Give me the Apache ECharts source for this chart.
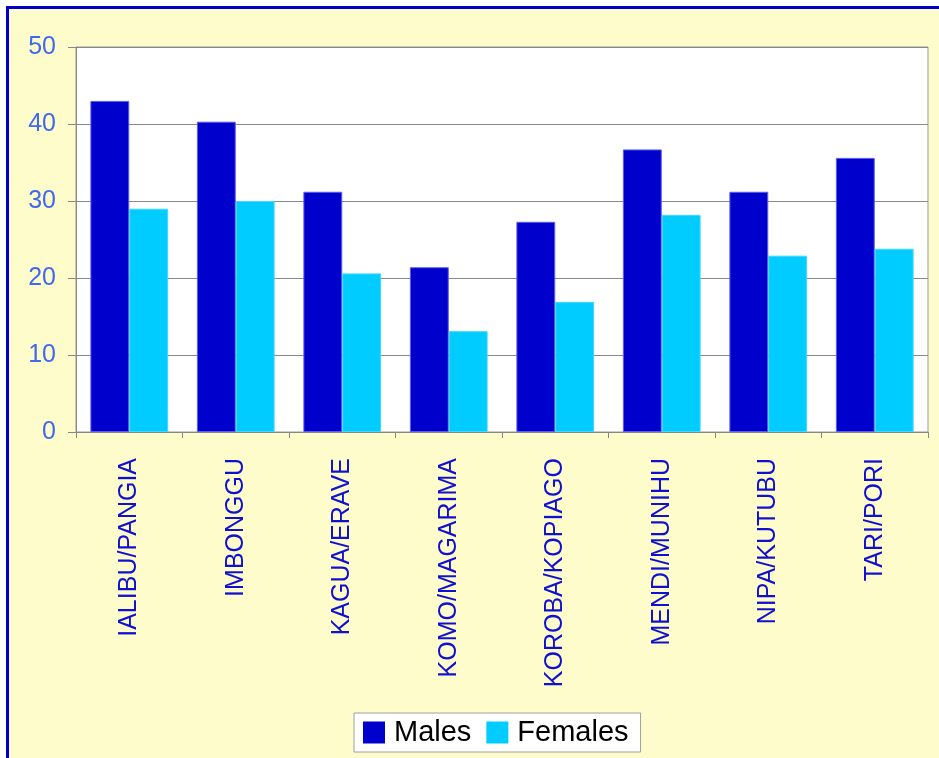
<!DOCTYPE html>
<html>
<head>
<meta charset="utf-8">
<script src="https://cdn.jsdelivr.net/npm/echarts@6/dist/echarts.min.js"></script>
<style>
  html, body { margin: 0; padding: 0; background: #fff; }
  #frame {
    position: absolute; left: 6px; top: 6px; width: 940px; height: 760px;
    border-left: 3px solid #0000cc; border-top: 3px solid #0000cc;
    background: #fefccb;
  }
  #main { position: absolute; left: 0; top: 0; width: 939px; height: 758px; }
</style>
</head>
<body>
<div id="frame"></div>
<div id="main"></div>
<script>
// districts
var categories = ['IALIBU/PANGIA', 'IMBONGGU', 'KAGUA/ERAVE', 'KOMO/MAGARIMA',
                  'KOROBA/KOPIAGO', 'MENDI/MUNIHU', 'NIPA/KUTUBU', 'TARI/PORI'];
var males   = [43.0, 40.3, 31.2, 21.4, 27.3, 36.7, 31.2, 35.6];
var females = [29.0, 30.0, 20.6, 13.1, 16.9, 28.2, 22.9, 23.8];
var yTicks  = [0, 10, 20, 30, 40, 50];

var myChart = echarts.init(document.getElementById('main'));

var option = {
    animation: false,
    backgroundColor: 'transparent',
    textStyle: { fontFamily: 'Liberation Sans, Arial, sans-serif' },
    legend: {
        bottom: 6,
        left: 354,
        data: ['Males', 'Females'],
        backgroundColor: '#fff',
        borderColor: '#a0a0a0',
        borderWidth: 1,
        borderRadius: 0,
        padding: [5, 12, 5, 9],
        itemWidth: 22,
        itemHeight: 22,
        itemGap: 15,
        icon: 'rect',
        itemStyle: { borderWidth: 0 },
        textStyle: { color: '#000', fontSize: 29, padding: [0, 0, 0, 4],
                     fontFamily: 'Liberation Sans, Arial, sans-serif' }
    },
    grid: {
        left: 76,
        right: 11,
        top: 47,
        bottom: 326,
        show: true,
        backgroundColor: '#fff',
        borderColor: '#999',
        borderWidth: 1,
        containLabel: false
    },
    xAxis: {
        type: 'category',
        data: categories,
        axisLine: { lineStyle: { color: '#888', width: 1 } },
        axisTick: { show: true, alignWithLabel: false, length: 6, lineStyle: { color: '#888' } },
        axisLabel: {
            rotate: 90,
            interval: 0,
            margin: 26,
            color: '#1010d0',
            fontSize: 25,
            fontFamily: 'Liberation Sans, Arial, sans-serif'
        }
    },
    yAxis: {
        type: 'value',
        min: yTicks[0],
        max: yTicks[yTicks.length - 1],
        interval: 10,
        axisLine: { show: true, lineStyle: { color: '#888' } },
        axisTick: { show: true, length: 8, lineStyle: { color: '#888' } },
        splitLine: { lineStyle: { color: '#888', width: 1 } },
        axisLabel: {
            margin: 20,
            color: '#4169ee',
            fontSize: 25,
            fontFamily: 'Liberation Sans, Arial, sans-serif'
        }
    },
    series: [
        {
            name: 'Males',
            type: 'bar',
            data: males,
            barGap: '0%',
            barCategoryGap: '27%',
            itemStyle: { color: '#0000cc', borderColor: '#5c5cf0', borderWidth: 1 }
        },
        {
            name: 'Females',
            type: 'bar',
            data: females,
            itemStyle: { color: '#00ccff', borderColor: '#40d8ff', borderWidth: 1 }
        }
    ]
};

myChart.setOption(option);
</script>
</body>
</html>
